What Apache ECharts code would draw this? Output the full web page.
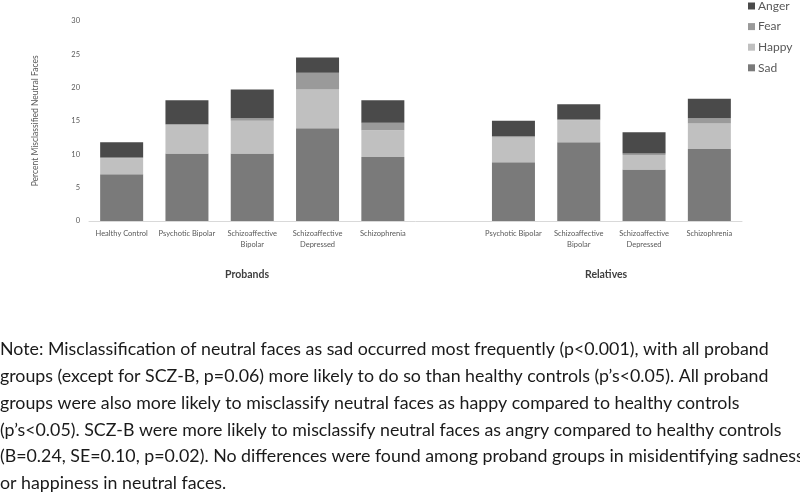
<!DOCTYPE html>
<html>
<head>
<meta charset="utf-8">
<script src="https://cdn.jsdelivr.net/npm/echarts@6/dist/echarts.min.js"></script>
<style>
html,body{margin:0;padding:0;background:#fff;}
#chart{width:800px;height:493px;}
</style>
</head>
<body>
<div id="chart"></div>
<script>
const categories = ["Healthy Control", "Psychotic Bipolar", "Schizoaffective\nBipolar", "Schizoaffective\nDepressed", "Schizophrenia", "", "Psychotic Bipolar", "Schizoaffective\nBipolar", "Schizoaffective\nDepressed", "Schizophrenia"];
const sad   = [7.0, 10.1, 10.1, 13.9, 9.6, null, 8.8, 11.8, 7.7, 10.8];
const happy = [2.4, 4.3, 4.9, 5.8, 4.0, null, 3.7, 3.3, 2.2, 3.8];
const fear  = [0.1, 0.1, 0.4, 2.5, 1.1, null, 0.2, 0.1, 0.2, 0.8];
const anger = [2.3, 3.6, 4.3, 2.3, 3.4, null, 2.3, 2.3, 3.2, 2.9];
const groupLabels = ["Probands", "Relatives"];
const yTicks = [0, 5, 10, 15, 20, 25, 30];
const noteLines = [
  "Note: Misclassification of neutral faces as sad occurred most frequently (p<0.001), with all proband",
  "groups (except for SCZ-B, p=0.06) more likely to do so than healthy controls (p\u2019s<0.05). All proband",
  "groups were also more likely to misclassify neutral faces as happy compared to healthy controls",
  "(p\u2019s<0.05). SCZ-B were more likely to misclassify neutral faces as angry compared to healthy controls",
  "(B=0.24, SE=0.10, p=0.02). No differences were found among proband groups in misidentifying sadness",
  "or happiness in neutral faces."
];

const colors = {Sad: "#7a7a7a", Happy: "#c0c0c0", Fear: "#9a9a9a", Anger: "#4a4a4a"};
const chart = echarts.init(document.getElementById('chart'));
const mk = (name, data) => ({
  name, type: 'bar', stack: 'total', data, barWidth: 43,
  itemStyle: {color: colors[name]}, emphasis: {disabled: true}
});
const option = {
  animation: false,
  textStyle: {fontFamily: 'Lato'},
  grid: {left: 89, right: 58, top: 20.7, bottom: 272, containLabel: false},
  legend: {
    orient: 'vertical', left: 748, top: 0, padding: 0,
    data: ['Anger', 'Fear', 'Happy', 'Sad'],
    icon: 'rect', itemWidth: 7, itemHeight: 7, itemGap: 8.6,
    textStyle: {fontSize: 12, color: '#595959', fontFamily: 'Lato', padding: [0, 0, 0, -2]}
  },
  xAxis: {
    type: 'category', data: categories,
    axisLine: {lineStyle: {color: '#d9d9d9'}},
    axisTick: {show: false},
    axisLabel: {interval: 0, fontSize: 7.5, color: '#595959', lineHeight: 11, margin: 7}
  },
  yAxis: {
    type: 'value', min: yTicks[0], max: yTicks[yTicks.length - 1], interval: 5,
    splitLine: {show: false}, axisLine: {show: false}, axisTick: {show: false},
    axisLabel: {fontSize: 7.5, color: '#595959', margin: 9},
    name: 'Percent Misclassified Neutral Faces', nameLocation: 'middle', nameRotate: 90, nameGap: 49,
    nameTextStyle: {fontSize: 8.5, color: '#595959'}
  },
  series: [mk('Sad', sad), mk('Happy', happy), mk('Fear', fear), mk('Anger', anger)],
  graphic: [
    {type: 'text', left: 225, top: 269, style: {text: groupLabels[0], font: 'bold 10.5px Lato', fill: '#404040'}},
    {type: 'text', left: 585, top: 269, style: {text: groupLabels[1], font: 'bold 10.5px Lato', fill: '#404040'}},
    {type: 'text', left: 0, top: 336, style: {text: noteLines.join('\n'), font: '17.8px Lato', fill: '#1a1a1a', lineHeight: 26.8}}
  ]
};
chart.setOption(option);
</script>
</body>
</html>
